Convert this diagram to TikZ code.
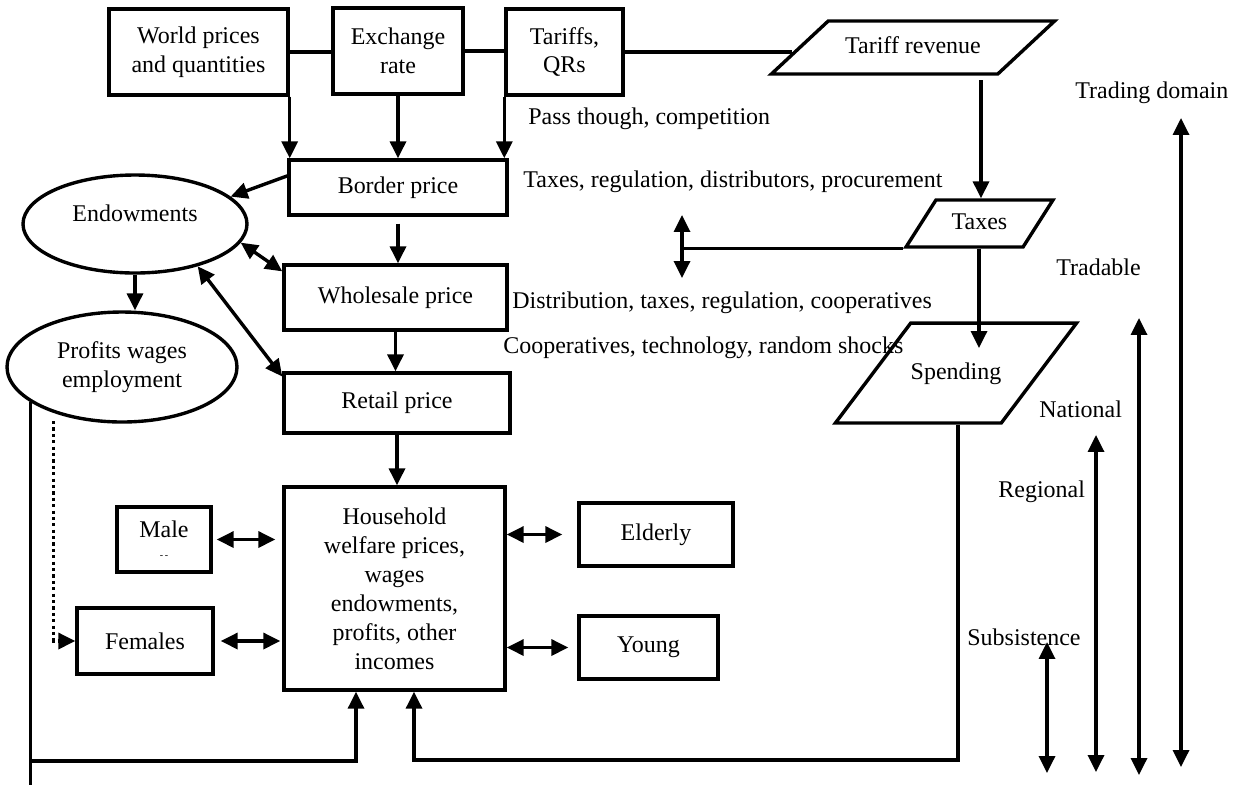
\documentclass[tikz,border=0pt]{standalone}
\usepackage{fontspec}
\setmainfont{Liberation Serif}
\usetikzlibrary{arrows.meta, shapes.geometric, positioning}
\newcommand{\pxu}{0.0176cm}
\tikzset{
  box/.style={draw, rectangle, line width=1.7pt, inner sep=0pt, align=center},
  oval/.style={draw, ellipse, line width=1.7pt, inner sep=0pt, align=center},
  slant/.style={draw, trapezium, line width=1.7pt, text height=9pt, text depth=3pt},
  sz/.style 2 args={minimum width=#1*\pxu, minimum height=#2*\pxu},
  lbl/.style={anchor=west, inner sep=0pt},
  conn/.style={line width=1.7pt},
  edge/.style={-{Triangle[length=8.5pt,width=8pt]}, line width=1.7pt},
  edgee/.style={{Triangle[length=8.5pt,width=8pt]}-{Triangle[length=8.5pt,width=8pt]}, line width=1.7pt},
  dedge/.style={-{Triangle[length=8.5pt,width=8pt]}, line width=1.7pt, dash pattern=on 1.6pt off 1.6pt}
}
\begin{document}
\begin{tikzpicture}[x=\pxu, y=-\pxu, font=\fontsize{12}{14.5}\selectfont]
  \useasboundingbox (0,0) rectangle (1241,786);
  \node[box, sz={179}{86}] (world) at (198.5,52) {World prices\\and quantities};
  \node[box, sz={130}{86}] (exch) at (398,51) {Exchange\\rate};
  \node[box, sz={117}{86}] (tariffs) at (564.5,52) {Tariffs,\\QRs};
  \node[slant, inner xsep=8.5pt, inner ysep=7.25pt, trapezium left angle=43, trapezium right angle=137] (trev) at (913,47.5) {Tariff revenue};
  \node[box, sz={218}{55}] (border) at (398,187.5) {Border price};
  \node[box, sz={223}{65}] (whole) at (395.5,297.5) {Wholesale price};
  \node[box, sz={226}{60}] (retail) at (397,403) {Retail price};
  \node[box, sz={221}{203}] (house) at (394.5,588.5) {Household\\welfare prices,\\wages\\endowments,\\profits, other\\incomes};
  \node[box, sz={154}{63}] (elderly) at (656,534.5) {Elderly};
  \node[box, sz={139}{63}] (young) at (648.5,647.5) {Young};
  \node[box, sz={94}{65}] (male) at (164,539.5) {Male\\[-4pt]{\tiny -\,-}};
  \node[box, sz={136}{66}] (females) at (145,641) {Females};
  \node[oval, sz={224}{98}] (endow) at (135,224) {Endowments\\[-3.5pt]};
  \node[oval, sz={230}{110}] (profits) at (122,367) {Profits wages\\employment};
  \node[slant, inner xsep=7.9pt, inner ysep=5.75pt, trapezium left angle=57.5, trapezium right angle=122.5] (taxes) at (979.5,223.5) {Taxes};
  \node[slant, inner xsep=0pt, inner ysep=19pt, trapezium left angle=53, trapezium right angle=127] (spend) at (956,373) {Spending};

  \node[lbl] (pass) at (528,119) {Pass though, competition};
  \node[lbl] (taxreg) at (523,182) {Taxes, regulation, distributors, procurement};
  \node[lbl] (distr) at (512,303) {Distribution, taxes, regulation, cooperatives};
  \node[lbl] (coop) at (503,348) {Cooperatives, technology, random shocks};
  \node[lbl] (trading) at (1075,93) {Trading domain};
  \node[lbl] (tradable) at (1056,267) {Tradable};
  \node[lbl] (national) at (1039,409) {National};
  \node[lbl] (regional) at (998,492) {Regional};
  \node[lbl] (subsist) at (967,637) {Subsistence};

  \draw[conn] (world.east) -- (world.east -| exch.west);
  \draw[conn] (exch.east) -- (exch.east -| tariffs.west);
  \draw[conn] (tariffs.east) -- ++(167,0);
  \draw[edge] (world.south east) -- (world.south east |- border.north);
  \draw[edge] (exch.south) -- (exch.south |- border.north);
  \draw[edge] (tariffs.south west) -- (tariffs.south west |- border.north);
  \draw[edge] (border.174) -- (endow.16);
  \draw[edge] (border.south) ++(0,7) -- (border.south |- whole.north);
  \draw[edge] (whole.south) -- (whole.south |- retail.north);
  \draw[edge] (retail.south) -- (retail.south |- house.north);
  \draw[edgee] (endow.-10) -- (whole.167);
  \draw[edgee] (endow.-34) -- (retail.167);
  \draw[edge] (endow.south) -- (endow.south |- profits.north);
  \draw[edgee, shorten <=2pt, shorten >=3.5pt] (male.east) -- (male.east -| house.west);
  \draw[edgee, shorten <=3pt, shorten >=1pt] (females.east) -- (females.east -| house.west);
  \draw[edgee, shorten >=7.5pt] (elderly.west -| house.east) -- (elderly.west);
  \draw[edgee, shorten >=4.5pt] (young.west -| house.east) -- (young.west);
  \draw[dedge] (profits.-146) ++(0,8) |- (females.west);
  \draw[conn] (profits.-159) -- (profits.-159 |- 0,785);
  \draw[edge] (profits.-159 |- 0,761) -| (356,0 |- house.south);
  \draw[edge] (958,0 |- spend.south) -- (958,760) -| (414,0 |- house.south);
  \draw[edge] (981,80) -- (981,0 |- taxes.north);
  \draw[edge] (979,0 |- taxes.south) -- (979,348);
  \draw[conn] (taxes.bottom left corner) -- (682,0 |- taxes.bottom left corner);
  \draw[edgee] (682,215) -- (682,278);
  \draw[edgee] (1181,118) -- (1181,767);
  \draw[edgee] (1139,318) -- (1139,775);
  \draw[edgee] (1096,435) -- (1096,772);
  \draw[edgee] (1047,642) -- (1047,773);
\end{tikzpicture}
\end{document}
